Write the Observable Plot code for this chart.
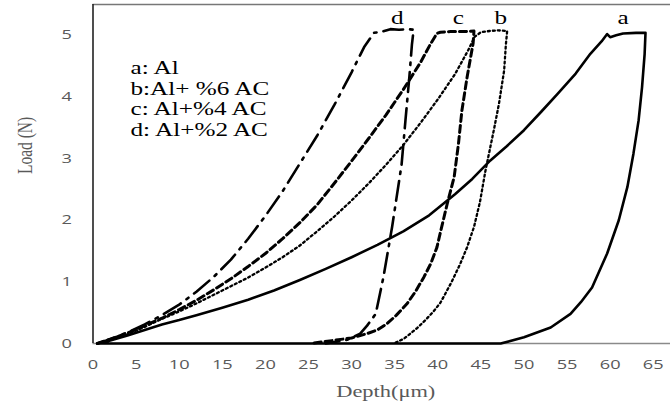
<!DOCTYPE html>
<html>
<head>
<meta charset="utf-8">
<script src="https://cdn.jsdelivr.net/npm/d3@7"></script>
<script src="https://cdn.jsdelivr.net/npm/@observablehq/plot@0.6"></script>
<style>
  html, body { margin: 0; padding: 0; background: #fff; }
  svg { display: block; }
</style>
</head>
<body>
<script>
// ---- data (depth µm, load N) ----
const curveA = [[0.5,0],[2,0.05],[4,0.13],[6,0.22],[8,0.31],[10,0.38],[12,0.46],[15,0.58],[18,0.71],[21,0.86],[24,1.03],[27,1.21],[30,1.40],[33,1.60],[36,1.82],[39,2.08],[42,2.42],[44,2.67],[46.1,2.97],[48,3.20],[50,3.46],[52,3.76],[53.9,4.05],[56,4.38],[57.7,4.70],[59,4.90],[59.65,5.02],[60.0,4.97],[60.7,5.0],[61.5,5.03],[63,5.04],[64.1,5.04],
  [64.0,4.70],[63.7,4.16],[63.3,3.62],[62.7,3.08],[62.0,2.54],[61.0,2.0],[59.65,1.46],[57.9,0.91],[56.6,0.67],[55.4,0.48],[53.1,0.26],[50.0,0.10],[47.3,0],[0.5,0]];
const curveB = [[0.5,0],[2,0.06],[4,0.15],[6,0.27],[8,0.40],[10,0.52],[12,0.65],[14,0.79],[16,0.93],[18,1.07],[20,1.23],[22,1.40],[24,1.59],[26,1.82],[28,2.06],[30,2.32],[32,2.60],[34,2.90],[36,3.22],[38,3.58],[40,3.96],[42,4.37],[43.5,4.75],[44.3,4.98],
  [45.0,5.05],[46,5.07],[47,5.08],[48.05,5.07],
  [47.9,4.85],[47.7,4.43],[47.1,3.89],[46.5,3.46],[46.1,3.19],[45.5,2.78],[44.9,2.30],[44.2,1.89],[43.4,1.56],[42.6,1.29],[41.5,0.97],[40.3,0.66],[39.5,0.52],[38.5,0.37],[37.6,0.25],[36.1,0.08],[34.9,0]];
const curveC = [[0.5,0],[2,0.07],[4,0.17],[6,0.29],[8,0.41],[10,0.55],[12,0.70],[14,0.87],[16,1.05],[18,1.25],[20,1.46],[22,1.70],[24,1.96],[26,2.25],[28,2.60],[30,2.96],[32,3.33],[34,3.71],[36,4.12],[38,4.56],[39.2,4.87],[39.9,5.03],
  [40.3,5.05],[41.5,5.06],[43,5.06],[44.2,5.07],
  [44.1,4.87],[43.4,4.32],[42.8,3.78],[42.4,3.24],[41.9,2.70],[41.1,2.27],[40.3,1.80],[39.9,1.56],[39.2,1.30],[38.4,1.08],[37.4,0.84],[36.4,0.64],[35.2,0.46],[34.1,0.32],[33,0.22],[31.8,0.16],[30,0.09],[27.9,0.05],[25.2,0]];
const curveD = [[0.5,0],[2,0.07],[4,0.18],[6,0.31],[8,0.46],[10,0.63],[12,0.84],[14,1.08],[16,1.36],[18,1.70],[20,2.07],[22,2.47],[24,2.92],[26,3.37],[28,3.87],[30,4.40],[31.5,4.82],[32.6,5.04],
  [33.5,5.06],[34.5,5.10],[35.5,5.09],[36.5,5.10],[37.2,5.09],
  [37.0,4.85],[36.7,4.32],[36.25,3.62],[35.8,2.9],[35.2,2.35],[34.7,1.89],[33.7,1.08],[32.8,0.48],[31.8,0.29],[31.0,0.16],[29.5,0.06],[27,0]];

const curveLetters = ["d", "c", "b", "a"];
const letterDepth = [35.3, 42.4, 47.3, 61.5];
const letterLoad = [5.19, 5.19, 5.19, 5.19];
const legendLabels = ["a: Al", "b:Al+ %6 AC", "c: Al+%4 AC", "d: Al+%2 AC"];
const xTicks = [0,5,10,15,20,25,30,35,40,45,50,55,60,65];
const yTicks = [0,1,2,3,4,5];
const xTitle = "Depth(\u03bcm)";
const yTitle = "Load (N)";

// ---- styles ----
const GRAY = "#595959";
const SERIF = "Liberation Serif, Times New Roman, serif";
const SANS = "Open Sans, sans-serif";
const toRows = (arr) => arr.map(([x, y]) => ({x, y}));

const plot = Plot.plot({
  width: 670,
  height: 407,
  marginLeft: 92.5,
  marginRight: 0,
  marginTop: 4,
  marginBottom: 64,
  style: {background: "#fff"},
  x: {domain: [0, 67]},
  y: {domain: [0, 5.5]},
  marks: [
    Plot.ruleY([5.5], {stroke: "#777", strokeWidth: 1.3}),
    Plot.ruleY([0], {stroke: "#8a8a8a", strokeWidth: 1.5}),
    Plot.ruleX([0], {stroke: "#222", strokeWidth: 1.6}),
    Plot.axisX(xTicks, {tickSize: 0, tickPadding: 16, fontSize: 13, fontFamily: SANS, fill: GRAY, label: null, tickFormat: d => String(d)}),
    Plot.axisY(yTicks, {tickSize: 0, tickPadding: 21, fontSize: 13, fontFamily: SANS, fill: GRAY, label: null, tickFormat: d => String(d)}),
    Plot.line(toRows(curveA), {x: "x", y: "y", stroke: "#000", strokeWidth: 2.6, strokeLinejoin: "round"}),
    Plot.line(toRows(curveB), {x: "x", y: "y", stroke: "#000", strokeWidth: 2.3, strokeDasharray: "2,3"}),
    Plot.line(toRows(curveC), {x: "x", y: "y", stroke: "#000", strokeWidth: 3, strokeDasharray: "7,4"}),
    Plot.line(toRows(curveD), {x: "x", y: "y", stroke: "#000", strokeWidth: 2.6, strokeDasharray: "20,7,2.5,7"}),
    Plot.text(curveLetters, {x: (d, i) => letterDepth[i], y: (d, i) => letterLoad[i], text: d => d,
      fontSize: 18, fontFamily: SERIF, fill: "#000", textAnchor: "middle", lineAnchor: "bottom"}),
    Plot.text(legendLabels, {x: 4.35, y: (d, i) => 4.37 - i * 0.334, text: d => d,
      fontSize: 18, fontFamily: SERIF, fill: "#000", textAnchor: "start", lineAnchor: "bottom"}),
    Plot.text([xTitle], {frameAnchor: "bottom", dx: 4, dy: 53, text: d => d,
      fontSize: 16, fontFamily: SERIF, fill: GRAY, lineAnchor: "bottom"}),
    Plot.text([yTitle], {frameAnchor: "left", dx: -61.5, dy: 0, rotate: -90, text: d => d,
      fontSize: 15.5, fontFamily: SERIF, fill: GRAY, lineAnchor: "bottom"})
  ]
});
document.body.appendChild(plot);

// the reference image is horizontally stretched: widen text glyphs horizontally
const STRETCH = 1.4;
plot.querySelectorAll("text").forEach(t => {
  const tr = t.getAttribute("transform") || "";
  if (t.textContent === yTitle || tr.includes("rotate")) {
    t.setAttribute("transform", tr + " scale(1," + STRETCH + ")");
    return;
  }
  const len = t.getComputedTextLength();
  if (len > 0) {
    t.setAttribute("textLength", (len * STRETCH).toFixed(2));
    t.setAttribute("lengthAdjust", "spacingAndGlyphs");
  }
});
</script>
</body>
</html>
